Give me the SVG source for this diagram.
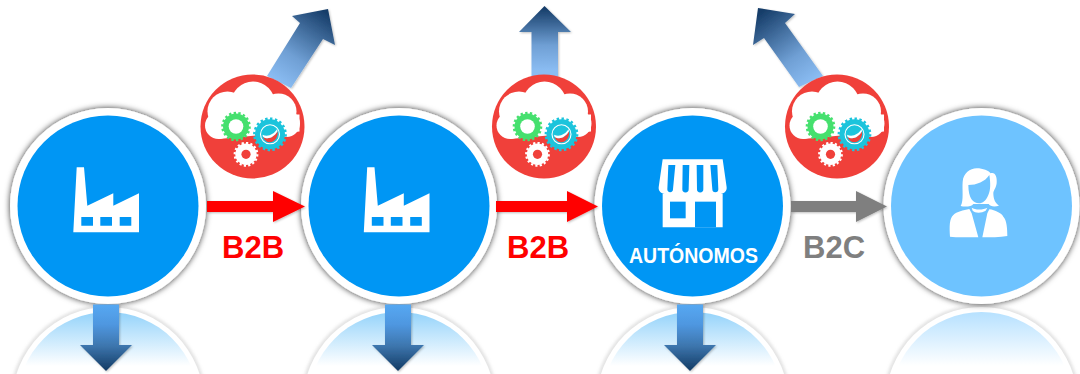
<svg xmlns="http://www.w3.org/2000/svg" width="1080" height="374" viewBox="0 0 1080 374">
<style>
text{font-family:"Liberation Sans",Arial,sans-serif;font-weight:700}
.lbl{font-size:31px}
.ring{fill:#fff;filter:url(#sh)}
.ic{fill:#fff}
.b{fill:#0096f4}
.l{fill:#6ec3ff}
.dn{fill:url(#gDown);filter:url(#as)}
</style>
<defs>
<filter id="sh" x="-15%" y="-15%" width="130%" height="130%"><feDropShadow dx="0" dy="0" stdDeviation="3.2" flood-color="#000" flood-opacity=".8"/></filter>
<filter id="as" x="-20%" y="-20%" width="140%" height="140%"><feDropShadow dx="1" dy="1" stdDeviation="1.2" flood-color="#000" flood-opacity=".25"/></filter>
<filter id="rb" x="-10%" y="-10%" width="120%" height="120%"><feGaussianBlur stdDeviation="1.5"/></filter>
<linearGradient id="gDown" x1="0" y1="0" x2="0" y2="1"><stop offset="0" stop-color="#55a8f2"/><stop offset=".3" stop-color="#4f97e0"/><stop offset=".62" stop-color="#3d76ae"/><stop offset="1" stop-color="#123a63"/></linearGradient>
<linearGradient id="gUp2" gradientUnits="userSpaceOnUse" x1="544" y1="70" x2="544" y2="8"><stop offset="0" stop-color="#8abcf2"/><stop offset=".4" stop-color="#6f9fd4"/><stop offset="1" stop-color="#163d69"/></linearGradient>
<linearGradient id="gUp1" gradientUnits="userSpaceOnUse" x1="279" y1="82" x2="326" y2="12"><stop offset="0" stop-color="#8abcf2"/><stop offset=".35" stop-color="#6f9fd4"/><stop offset="1" stop-color="#163d69"/></linearGradient>
<linearGradient id="gUp3" gradientUnits="userSpaceOnUse" x1="811" y1="82" x2="761" y2="12"><stop offset="0" stop-color="#8abcf2"/><stop offset=".35" stop-color="#6f9fd4"/><stop offset="1" stop-color="#163d69"/></linearGradient>
<linearGradient id="rB" gradientUnits="userSpaceOnUse" x1="0" y1="312" x2="0" y2="366"><stop offset="0" stop-color="#0096f4" stop-opacity=".42"/><stop offset="1" stop-color="#0096f4" stop-opacity="0"/></linearGradient>
<linearGradient id="rL" gradientUnits="userSpaceOnUse" x1="0" y1="312" x2="0" y2="366"><stop offset="0" stop-color="#6ec3ff" stop-opacity=".5"/><stop offset="1" stop-color="#6ec3ff" stop-opacity="0"/></linearGradient>
<linearGradient id="rS" gradientUnits="userSpaceOnUse" x1="0" y1="304" x2="0" y2="350"><stop offset="0" stop-color="#aaa" stop-opacity=".32"/><stop offset="1" stop-color="#aaa" stop-opacity="0"/></linearGradient>
<g id="refl-ring"><circle r="98.5" fill="url(#rS)" filter="url(#rb)"/><circle r="96" fill="#fff"/></g>
<g id="factory" class="ic">
<path fill-rule="evenodd" d="M76.7 167.3H84L87.3 205.7L113.3 193.3V205.7L139 193.3V232.3H73.3ZM81.3 217V225.7H93V217ZM100.3 217V225.7H112V217ZM119.7 217V225.7H131.3V217Z"/>
</g>
<g id="cloud">
<circle r="52" fill="#f0403a"/>
<g fill="#fff">
<circle cx="-25" cy="-15" r="20"/><circle cx="0.5" cy="-23" r="22"/><circle cx="26" cy="-15" r="18"/><circle cx="34" cy="-3" r="13.5"/><circle cx="-34" cy="-1" r="13.5"/>
<path d="M-36 -12H47V5L-34 12.5Z"/>
</g>
<g transform="translate(-16.5 0)"><circle r="13" fill="#45e06e"/><circle r="13.6" fill="none" stroke="#45e06e" stroke-width="2.4" pathLength="36" stroke-dasharray="1 1"/><circle r="7.3" fill="#fff"/></g>
<g transform="translate(17.5 7.8)"><circle r="15" fill="#1cc4dc"/><circle r="15.6" fill="none" stroke="#1cc4dc" stroke-width="2.6" pathLength="40" stroke-dasharray="1 1"/><circle r="9.5" fill="#1cc4dc" stroke="#fff" stroke-width="1.1"/><path d="M-7 2.5C-2 6 4 3 7.5 -3C8.5 2 5 8 0 8C-3 8 -6 6 -7 2.5Z" fill="#f0403a"/><path d="M-7 2.5C-2 6 4 3 7.5 -3L7 -5C4 0 -2 3 -7.5 0.5Z" fill="#fff"/></g>
<g transform="translate(-6.5 27.8)"><circle r="10.7" fill="#fff"/><circle r="11.3" fill="none" stroke="#fff" stroke-width="2.2" pathLength="32" stroke-dasharray="1 1"/><circle r="4.6" fill="#f0403a"/></g>
</g>
</defs>
<rect width="1080" height="374" fill="#fff"/>

<g id="reflections">
<use href="#refl-ring" x="108" y="403"/><circle cx="108" cy="403" r="91" fill="url(#rB)"/>
<use href="#refl-ring" x="399" y="403"/><circle cx="399" cy="403" r="91" fill="url(#rB)"/>
<use href="#refl-ring" x="692.5" y="403"/><circle cx="692.5" cy="403" r="91" fill="url(#rB)"/>
<use href="#refl-ring" x="981.5" y="403"/><circle cx="981.5" cy="403" r="91" fill="url(#rL)"/>
</g>

<g id="node-fabricante">
<circle class="ring" cx="108" cy="206" r="98"/><circle class="b" cx="108" cy="206" r="90.5"/>
<use href="#factory"/>
</g>
<g id="node-distribuidor">
<circle class="ring" cx="399" cy="206" r="98"/><circle class="b" cx="399" cy="206" r="90.5"/>
<use href="#factory" x="290.5"/>
</g>
<g id="node-autonomos">
<circle class="ring" cx="692.5" cy="206" r="98"/><circle class="b" cx="692.5" cy="206" r="90.5"/>
<g transform="translate(650 150) scale(.3333)">
<path class="ic" d="M38 28H218L230 112C231 124 222 131 212 131H218V232H38V131H44C34 131 25 124 26 112Z"/>
<g class="b"><path d="M55 45H76L69 118A8 8 0 0 1 52 118Z"/><path d="M98 45H118L116 118A9 9 0 0 1 97 118Z"/><path d="M140 45H160L160 118A9 9 0 0 1 141 118Z"/><path d="M181 45H202L205 118A9 9 0 0 1 187 118Z"/><rect x="60" y="155" width="47" height="50"/><rect x="135" y="155" width="63" height="77"/></g>
</g>
<text x="693.5" y="263" font-size="22.5" fill="#fff" text-anchor="middle" textLength="129" lengthAdjust="spacingAndGlyphs">AUTÓNOMOS</text>
</g>
<g id="node-cliente">
<circle class="ring" cx="981.5" cy="206" r="98"/><circle class="l" cx="981.5" cy="206" r="90.5"/>
<g transform="translate(940 160) scale(.3333)">
<path class="ic" d="M62 138C72 120 66 90 68 65C70 40 90 25 110 25C130 25 145 32 152 40C165 35 172 50 170 70C168 85 160 92 160 100C160 115 165 130 177 137C165 141 150 140 146 132L100 132C95 140 75 141 62 138Z"/>
<path class="l" d="M85 75C110 75 135 65 148 45C152 70 152 90 145 105C138 122 128 130 117 130C100 130 85 115 85 75Z"/>
<path class="ic" d="M95 143C105 150 130 150 142 143L137 152C125 160 105 160 98 152Z"/>
<path class="ic" d="M30 230C28 200 28 175 40 165C50 155 70 150 88 147L95 160L115 232C85 232 50 232 30 230Z"/>
<path class="ic" d="M127 232L142 160L148 148C165 150 185 160 190 170C200 180 202 205 202 228C180 232 150 232 127 232Z"/>
</g>
</g>

<g id="connectors">
<path class="dn" d="M93 304.5H119V345H132L106 371L80 345H93Z"/>
<path class="dn" d="M385 304.5H411V345H424L398 371L372 345H385Z"/>
<path class="dn" d="M677 304.5H703V345H716L690 371L664 345H677Z"/>
<path fill="url(#gUp1)" filter="url(#as)" d="M267 76L300 23L292 16L328 9L335 45L323 39L291 88Z"/>
<path fill="url(#gUp2)" filter="url(#as)" d="M531.5 80V32H519L544.5 6L571 32H558V80Z"/>
<path fill="url(#gUp3)" filter="url(#as)" d="M823 76L785 23L795 14L758 8L753 45L764 38L799 87Z"/>
<path fill="#f00" filter="url(#as)" d="M207 201H273V191L305 206.5L273 222V212H207Z"/>
<path fill="#f00" filter="url(#as)" d="M496 201H567V191L598 206.5L567 222V212H496Z"/>
<path fill="#7f7f7f" filter="url(#as)" d="M791 201H856V191L887 206.5L856 222V212H791Z"/>
</g>

<g id="label-b2b-1"><text class="lbl" x="222" y="258" fill="#f00">B2B</text></g>
<g id="label-b2b-2"><text class="lbl" x="507" y="258" fill="#f00">B2B</text></g>
<g id="label-b2c"><text class="lbl" x="803" y="258" fill="#7f7f7f">B2C</text></g>

<g id="cloud-1"><use href="#cloud" x="252.5" y="126.5"/></g>
<g id="cloud-2"><use href="#cloud" x="544" y="126.5"/></g>
<g id="cloud-3"><use href="#cloud" x="837" y="126.5"/></g>
</svg>
